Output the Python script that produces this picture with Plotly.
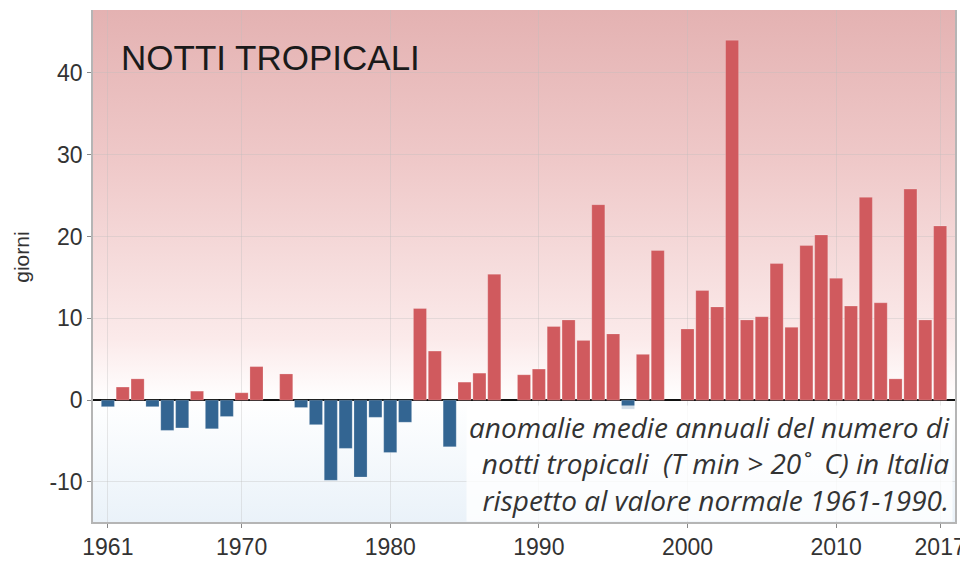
import base64
import plotly.graph_objects as go

years = list(range(1961, 2018))
anomalies = [
    -0.8, 1.6, 2.6, -0.8, -3.7, -3.4, 1.1, -3.5, -2.0, 0.9,
    4.1, None, 3.2, -0.9, -3.0, -9.8, -5.9, -9.4, -2.1, -6.4,
    -2.7, 11.2, 6.0, -5.7, 2.2, 3.3, 15.4, None, 3.1, 3.8,
    9.0, 9.8, 7.3, 23.9, 8.1, -1.1, 5.6, 18.3, None, 8.7,
    13.4, 11.4, 44.0, 9.8, 10.2, 16.7, 8.9, 18.9, 20.2, 14.9,
    11.5, 24.8, 11.9, 2.6, 25.8, 9.8, 21.3,
]
x_ticks = [1961, 1970, 1980, 1990, 2000, 2010, 2017]
y_ticks = [-10, 0, 10, 20, 30, 40]
y_tick_labels = ["-10", "0", "10", "20", "30", "40"]

title_text = "NOTTI TROPICALI"
note_text = ("<i>anomalie medie annuali del numero di<br>"
             "notti tropicali  (T min > 20\u02da  C) in Italia<br>"
             "rispetto al valore normale 1961-1990.</i>")
y_label = "giorni"

X_RANGE = [1960.0, 2018.0]
Y_RANGE = [-14.9, 47.7]

RED = "#d05a5e"
BLUE = "#336592"
colors = [RED if (v is not None and v >= 0) else BLUE for v in anomalies]

# background gradient (pink above zero, white at zero, light blue below)
zero_from_top = (Y_RANGE[1] - 0) / (Y_RANGE[1] - Y_RANGE[0])
svg = (
    '<svg xmlns="http://www.w3.org/2000/svg" width="100" height="100" preserveAspectRatio="none">'
    '<defs><linearGradient id="g" x1="0" y1="0" x2="0" y2="1">'
    '<stop offset="0" stop-color="#e4b2b2"/>'
    '<stop offset="0.3" stop-color="#efc9c9"/>'
    f'<stop offset="{zero_from_top - 0.12:.3f}" stop-color="#fbeaea"/>'
    f'<stop offset="{zero_from_top:.3f}" stop-color="#ffffff"/>'
    '<stop offset="1" stop-color="#eaf2f9"/>'
    '</linearGradient></defs>'
    '<rect width="100" height="100" fill="url(#g)"/></svg>'
)
bg_src = "data:image/svg+xml;base64," + base64.b64encode(svg.encode()).decode()

fig = go.Figure()

fig.add_trace(go.Bar(
    x=years, y=anomalies,
    marker=dict(color=colors, line=dict(color="rgba(255,255,255,0.35)", width=0.6)),
    showlegend=False,
))

fig.add_layout_image(dict(
    source=bg_src, xref="paper", yref="paper",
    x=0, y=1, sizex=1, sizey=1, sizing="stretch",
    xanchor="left", yanchor="top", layer="below",
))

fig.add_annotation(
    x=0.030, y=0.95, xref="paper", yref="paper",
    xanchor="left", yanchor="top",
    text=title_text, showarrow=False,
    font=dict(family="Liberation Sans, Arial", size=35, color="#1a1a1a"),
)

fig.add_annotation(
    x=0.998, y=0.228, xref="paper", yref="paper",
    xanchor="right", yanchor="top", align="right",
    text=note_text, showarrow=False,
    font=dict(family="Open Sans, Lato", size=28, color="#333333"),
    bgcolor="rgba(255,255,255,0.78)",
    borderpad=2,
)

# y-axis title
fig.add_annotation(
    x=-0.0824, y=0.518, xref="paper", yref="paper",
    xanchor="center", yanchor="middle", textangle=-90,
    text=y_label, showarrow=False,
    font=dict(family="Liberation Sans, Arial", size=21, color="#333333"),
)

# page has an 8px body margin: figure is sized to fit the 968x565 window
fig.update_layout(
    width=960, height=557,
    margin=dict(l=85, r=13, t=2, b=43),
    paper_bgcolor="white",
    plot_bgcolor="rgba(0,0,0,0)",
    bargap=0.12,
    font=dict(family="Liberation Sans, Arial", size=23, color="#333333"),
)

fig.update_xaxes(
    range=X_RANGE, tickvals=x_ticks, ticktext=[str(t) for t in x_ticks],
    showgrid=True, gridcolor="rgba(190,190,190,0.35)", gridwidth=1,
    showline=True, linecolor="#b5b5b5", linewidth=1.5,
    ticks="outside", ticklen=4, tickcolor="#888888",
    zeroline=False, automargin=False,
)
fig.update_yaxes(
    range=Y_RANGE, tickvals=y_ticks, ticktext=y_tick_labels,
    showgrid=True, gridcolor="rgba(190,190,190,0.35)", gridwidth=1,
    showline=True, linecolor="#b5b5b5", linewidth=1.5, mirror=True,
    ticks="outside", ticklen=4, tickcolor="#888888",
    zeroline=True, zerolinecolor="#111111", zerolinewidth=2,
    automargin=False,
)

fig.write_html("out.html")
